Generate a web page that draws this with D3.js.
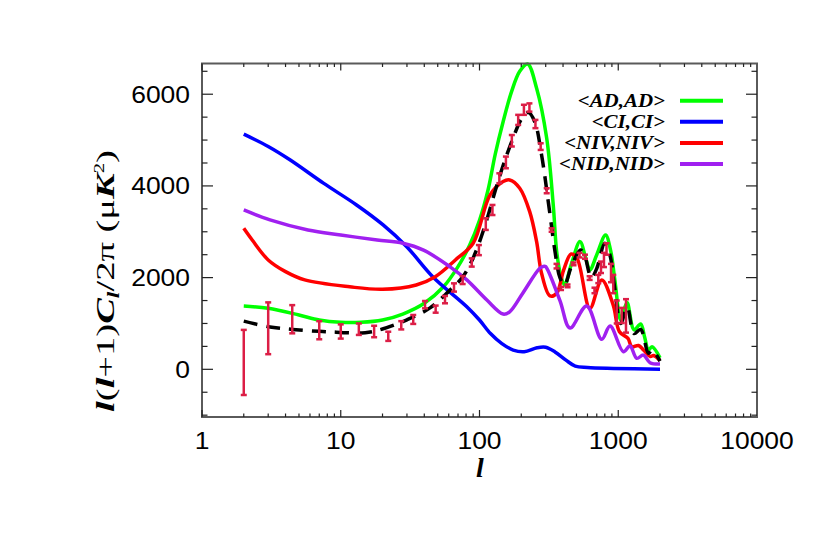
<!DOCTYPE html>
<html><head><meta charset="utf-8">
<script src="https://cdn.jsdelivr.net/npm/d3@7"></script>
<style>body{margin:0;background:#fff;}svg{display:block;}</style>
</head><body><svg id="c" width="817" height="545"></svg>
<script>
// ---- data ----
const xTicks = [1, 10, 100, 1000, 10000];
const yTicks = [0, 2000, 4000, 6000];

const adL = [2,3,5,7,10,14,20,28,40,55,70,85,100,115,130,148,170,195,222,258,305,340,360,385,410,460,530,580,625,700,810,880,945,1040,1100,1160,1300,1450,1550,1650,1750,2000];
const adV = [1380,1330,1185,1075,1025,1025,1075,1205,1440,1800,2240,2710,3250,3900,4700,5400,6050,6500,6660,6130,5040,3585,2565,2050,1840,2300,2785,2450,2170,2500,2930,2600,1950,1075,1300,1450,860,990,700,420,490,250];

const ciL = [2,3,4.3,7.5,13,20.2,29.9,46,81,100,120,145,175,210,260,300,350,420,490,600,925,2000];
const ciV = [5130,4860,4570,4060,3585,3150,2675,2020,1365,1075,780,560,420,385,470,480,380,200,70,40,20,0];

const nivL = [2,2.3,3,4,5.5,11.6,20,35,48,67,90,119,148,165,195,230,258,280,322,360,404,457,505,625,760,920,1020,1175,1253,1400,1520,1700,1800,2000];
const nivV = [3075,2820,2385,2130,1950,1800,1745,1840,2020,2385,2750,3800,4095,4130,3950,3440,2785,2095,1600,1660,2165,2515,2420,1330,1950,1400,820,675,490,520,420,280,300,190];

const nidL = [2,3.09,5.8,10,18.3,28,39.5,61,81,113,148,165,205,272,292,300,380,449,592,760,873,1088,1215,1359,1517,1694,2000];
const nidV = [3475,3260,3040,2930,2820,2750,2600,2240,1950,1510,1205,1255,1660,2205,2250,2240,1500,900,1380,655,945,385,510,240,310,145,115];

const fitL = [2,3,4.5,8,15,20,30,44,60,75,90,110,130,150,175,200,225,250,280,320,350,380,410,460,535,570,640,700,800,870,940,1040,1160,1300,1450,1650,1750,2000];
const fitV = [1050,930,870,820,800,880,1080,1340,1700,2000,2430,3150,3900,4500,5050,5450,5600,5400,4680,3440,2570,2000,1840,2250,2600,2500,2000,2200,2750,2500,1800,1000,1350,780,870,350,420,180];

const obsL  = [2,3,4.47,7,10,13.5,17.4,22,27.3,33.3,40.5,48.3,56.4,65.5,75.6,87.9,99,111,124,139,155,171,190,209,229,253,276,305,331,359,387,431,476,526,576,622,674,718,751,789,823,887,921,975,1059,1137];
const obsLo = [-560,330,785,655,670,750,700,620,870,990,1330,1235,1440,1695,1860,2240,2490,3040,3365,4060,4385,4860,5330,5550,5620,5260,4785,3840,3000,2200,1730,1790,2270,2440,2410,1950,1660,1880,2100,2230,2500,1900,1660,1000,1010,800];
const obsHi = [860,1460,1400,1050,980,1000,950,820,1050,1185,1490,1390,1600,1875,2035,2420,2710,3295,3585,4275,4640,5110,5550,5770,5800,5440,4930,3950,3075,2300,1800,1850,2330,2540,2500,2030,1780,2060,2350,2540,2750,2300,2060,1500,1340,1530];

const legendLabels = ["<AD,AD>", "<CI,CI>", "<NIV,NIV>", "<NID,NID>"];
const legendColors = ["#00ff00", "#0000ff", "#ff0000", "#a020f0"];

// ---- layout ----
const L = 202, R = 757, T = 63.5, B = 417;
const svg = d3.select("#c");
const x = d3.scaleLog().domain([1, 10000]).range([L, R]);
const y = d3.scaleLinear().domain([-1040, 6670]).range([B, T]);

const sans = "'Liberation Sans', Arial, Helvetica, sans-serif";
const serif = "'Liberation Serif', 'Times New Roman', Times, serif";

// curves
const line = d3.line().x(d => x(d[0])).y(d => y(d[1])).curve(d3.curveCatmullRom.alpha(0.5));
function draw(ls, vs, color, dash) {
  const p = svg.append("path").datum(ls.map((l, i) => [l, vs[i]]))
    .attr("d", line).attr("fill", "none").attr("stroke", color)
    .attr("stroke-width", 3.5).attr("stroke-linejoin", "round");
  if (dash) p.attr("stroke-dasharray", dash);
}
draw(adL, adV, legendColors[0]);
draw(ciL, ciV, legendColors[1]);
draw(nivL, nivV, legendColors[2]);
draw(nidL, nidV, legendColors[3]);
draw(fitL, fitV, "#000", "14,9");

// error bars
const eb = svg.append("g").attr("stroke", "#dc1e46").attr("stroke-width", 2.5);
obsL.forEach((l, i) => {
  const cx = x(l), y0 = y(obsLo[i]), y1 = y(obsHi[i]);
  eb.append("line").attr("x1", cx).attr("x2", cx).attr("y1", y0).attr("y2", y1);
  eb.append("line").attr("x1", cx - 3).attr("x2", cx + 3).attr("y1", y0).attr("y2", y0);
  eb.append("line").attr("x1", cx - 3).attr("x2", cx + 3).attr("y1", y1).attr("y2", y1);
});

// frame
svg.append("rect").attr("x", L).attr("y", T).attr("width", R - L).attr("height", B - T)
  .attr("fill", "none").attr("stroke", "#5a5a5a").attr("stroke-width", 2);

// ticks
const tk = svg.append("g").attr("stroke", "#222").attr("stroke-width", 1.2);
for (let d = 1; d < 10000; d *= 10) {
  for (let m = 1; m < 10; m++) {
    const v = d * m, px = x(v), len = m === 1 ? 7 : 3.5;
    tk.append("line").attr("x1", px).attr("x2", px).attr("y1", B).attr("y2", B - len);
    tk.append("line").attr("x1", px).attr("x2", px).attr("y1", T).attr("y2", T + len);
  }
}
for (let v = -1000; v <= 6500; v += 500) {
  const py = y(v), len = v % 2000 === 0 ? 11 : 5.5;
  tk.append("line").attr("x1", L).attr("x2", L + len).attr("y1", py).attr("y2", py);
  tk.append("line").attr("x1", R).attr("x2", R - len).attr("y1", py).attr("y2", py);
}

// tick labels (horizontally stretched to match the wide vector font)
const SX = 1.15;
xTicks.forEach(v => svg.append("text").attr("transform", `translate(${x(v)},449) scale(${SX},1)`)
  .attr("text-anchor", "middle").attr("font-family", sans).attr("font-size", 23).text(v));
yTicks.forEach(v => svg.append("text").attr("transform", `translate(190,${y(v) + 8.3}) scale(${SX},1)`)
  .attr("text-anchor", "end").attr("font-family", sans).attr("font-size", 23).text(v));

// axis titles
svg.append("text").attr("x", 480).attr("y", 477).attr("text-anchor", "middle")
  .attr("font-family", serif).attr("font-style", "italic").attr("font-weight", "bold")
  .attr("font-size", 28).text("l");

const ylg = svg.append("g").attr("transform", "translate(114,281) rotate(-90)");
const yl = ylg.append("text").attr("text-anchor", "middle").attr("font-family", serif).attr("font-size", 26);
yl.append("tspan").attr("font-style", "italic").attr("font-weight", "bold").text("l");
yl.append("tspan").text("(");
yl.append("tspan").attr("font-style", "italic").attr("font-weight", "bold").text("l");
yl.append("tspan").text("+1)");
yl.append("tspan").attr("font-style", "italic").attr("font-weight", "bold").text("C");
yl.append("tspan").attr("font-style", "italic").attr("font-weight", "bold").attr("font-size", 16).attr("dy", 5).text("l");
yl.append("tspan").attr("dy", -5).text("/2π (μ");
yl.append("tspan").attr("font-style", "italic").attr("font-weight", "bold").text("K");
yl.append("tspan").attr("font-size", 14).attr("dy", -10).text("2");
yl.append("tspan").attr("dy", 10).text(")");
{
  const w = yl.node().getBBox().width;
  yl.attr("transform", `scale(${262 / w},1)`);
}

// legend
const lg = [];
legendLabels.forEach((t, i) => {
  const ly = 100.7 + i * 21.1;
  const tx = svg.append("text").attr("transform", `translate(665,${ly + 6})`).attr("text-anchor", "end")
    .attr("font-family", serif).attr("font-style", "italic").attr("font-weight", "bold")
    .attr("font-size", 18).text(t);
  lg.push([tx, ly]);
  svg.append("line").attr("x1", 680).attr("x2", 723).attr("y1", ly).attr("y2", ly)
    .attr("stroke", legendColors[i]).attr("stroke-width", 4);
});
{
  const w = lg[3][0].node().getBBox().width;
  const s = 106 / w;
  lg.forEach(([tx, ly]) => tx.attr("transform", `translate(665,${ly + 6}) scale(${s},1)`));
}
</script></body></html>
